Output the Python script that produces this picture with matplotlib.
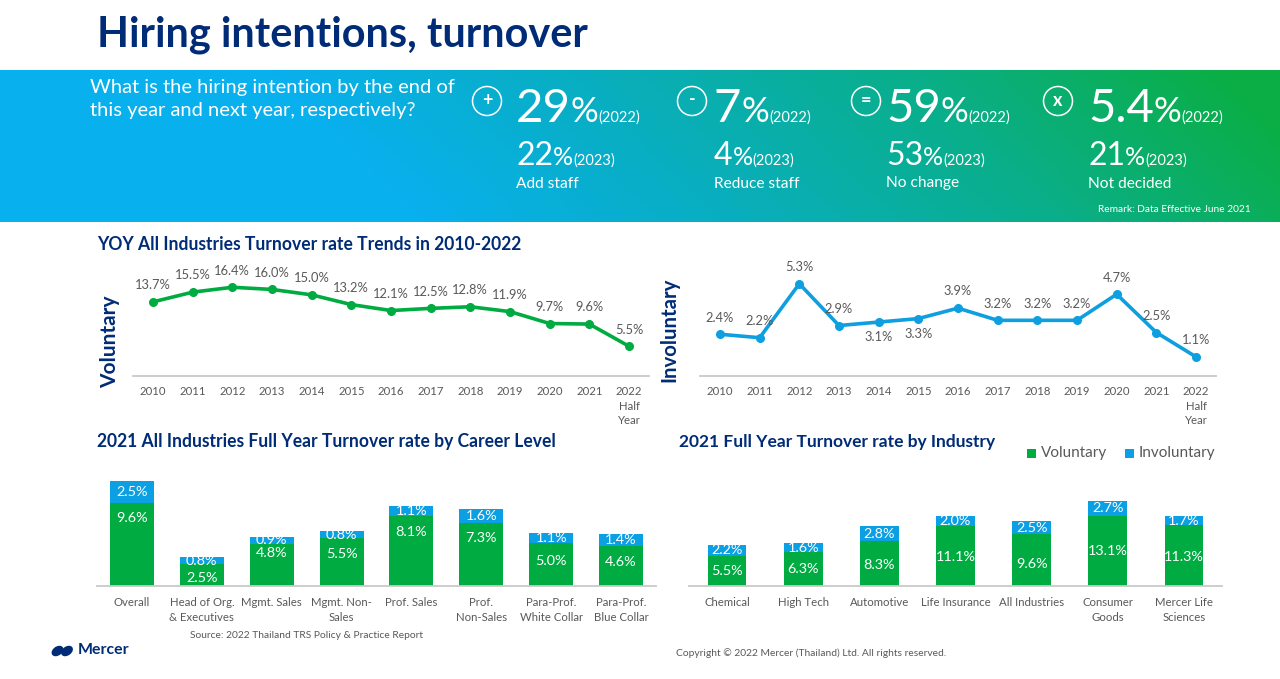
import numpy as np
from matplotlib import pyplot as plt
from matplotlib.colors import LinearSegmentedColormap
from matplotlib.patches import Circle, Ellipse, Rectangle

# ---- data ----
years = ['2010', '2011', '2012', '2013', '2014', '2015', '2016', '2017', '2018', '2019', '2020', '2021', '2022\nHalf\nYear']
voluntary_trend = [13.7, 15.5, 16.4, 16.0, 15.0, 13.2, 12.1, 12.5, 12.8, 11.9, 9.7, 9.6, 5.5]
involuntary_trend = [2.4, 2.2, 5.3, 2.9, 3.1, 3.3, 3.9, 3.2, 3.2, 3.2, 4.7, 2.5, 1.1]

levels = ['Overall', 'Head of Org.\n& Executives', 'Mgmt. Sales', 'Mgmt. Non-\nSales', 'Prof. Sales',
          'Prof.\nNon-Sales', 'Para-Prof.\nWhite Collar', 'Para-Prof.\nBlue Collar']
level_vol = [9.6, 2.5, 4.8, 5.5, 8.1, 7.3, 5.0, 4.6]
level_inv = [2.5, 0.8, 0.9, 0.8, 1.1, 1.6, 1.1, 1.4]

industries = ['Chemical', 'High Tech', 'Automotive', 'Life Insurance', 'All Industries', 'Consumer\nGoods',
              'Mercer Life\nSciences']
industry_vol = [5.5, 6.3, 8.3, 11.1, 9.6, 13.1, 11.3]
industry_inv = [2.2, 1.6, 2.8, 2.0, 2.5, 2.7, 1.7]

hiring_labels = ['Add staff', 'Reduce staff', 'No change', 'Not decided']
hiring_2022 = ['29', '7', '59', '5.4']
hiring_2023 = ['22', '4', '53', '21']
hiring_signs = ['+', '-', '=', 'x']

# ---- colours / layout ----
W, H = 1280, 679
NAVY = '#002C77'
GREEN = '#00AC41'
BLUE = '#0B9FE3'
GREY = '#595959'
AXIS = '#C9C9C9'
plt.rcParams['font.family'] = ['Lato', 'DejaVu Sans']

fig = plt.figure(figsize=(12.8, 6.79), dpi=100)

# page axes in pixel coordinates, used for banner and free text
page = fig.add_axes([0, 0, 1, 1])
page.set_xlim(0, W)
page.set_ylim(H, 0)
page.axis('off')


def box(x0, y0, x1, y1):
    # axes from a pixel box, y0 is the top edge
    return fig.add_axes([x0 / W, 1 - y1 / H, (x1 - x0) / W, (y1 - y0) / H], facecolor='none')


# banner gradient
xx, yy = np.meshgrid(np.linspace(0, 1280, 320), np.linspace(70, 222, 40))
grad = np.clip((xx + 1.0 * (222 - yy) - 420) / 960, 0, 1)
cmap = LinearSegmentedColormap.from_list('banner', ['#08B0EE', '#09AEBE', '#0AAE8A', '#0BAE45'])
page.imshow(grad, extent=(0, 1280, 222, 70), cmap=cmap, aspect='auto', zorder=0)
page.set_xlim(0, W)
page.set_ylim(H, 0)

page.text(97, 35, 'Hiring intentions, turnover', color=NAVY, fontsize=29.9, fontweight='bold',
          va='center', ha='left')
page.text(90, 87.5, 'What is the hiring intention by the end of', color='white', fontsize=14.5, va='center')
page.text(90, 110.5, 'this year and next year, respectively?', color='white', fontsize=14.5, va='center')

renderer = fig.canvas.get_renderer()


def runs(x, baseline, parts):
    # text pieces set one after another on the same baseline
    for s, size in parts:
        t = page.text(x, baseline, s, color='white', fontsize=size, va='baseline', ha='left', zorder=3)
        x = page.transData.inverted().transform(t.get_window_extent(renderer).get_points())[1][0]


big_x = [516, 714, 886, 1088]
circle_x = [487, 692, 866, 1058]
for i in range(4):
    runs(big_x[i], 122, [(hiring_2022[i], 34), ('%', 25), ('(2022)', 10.5)])
    runs(big_x[i], 165, [(hiring_2023[i], 23), ('%', 18), ('(2023)', 10.5)])
    page.text(big_x[i], 183.5, hiring_labels[i], color='white', fontsize=11.2, va='center', zorder=3)
    page.add_patch(Circle((circle_x[i], 101), 14.5, fc='none', ec='white', lw=1.1, zorder=3))
    page.text(circle_x[i], 100, hiring_signs[i], color='white', fontsize=13, fontweight='bold',
              ha='center', va='center', zorder=3)
page.text(1251, 209, 'Remark: Data Effective June 2021', color='white', fontsize=7.3, ha='right', va='center', zorder=3)

# section titles
page.text(97, 244.5, 'YOY All Industries Turnover rate Trends in 2010-2022', color=NAVY, fontsize=12.65,
          fontweight='bold', va='center')
page.text(97, 441.5, '2021 All Industries Full Year Turnover rate by Career Level', color=NAVY, fontsize=12.65,
          fontweight='bold', va='center')
page.text(679, 441.5, '2021 Full Year Turnover rate by Industry', color=NAVY, fontsize=12.55,
          fontweight='bold', va='center')
page.text(110, 342, 'Voluntary', color=NAVY, fontsize=15, fontweight='bold',
          rotation=90, ha='center', va='center')
page.text(669, 330, 'Involuntary', color=NAVY, fontsize=14.7, fontweight='bold',
          rotation=90, ha='center', va='center')

# legend
page.add_patch(Rectangle((1027, 449), 9, 9, fc=GREEN, ec='none'))
page.add_patch(Rectangle((1125, 449), 9, 9, fc=BLUE, ec='none'))
page.text(1041, 453, 'Voluntary', color=GREY, fontsize=11, va='center')
page.text(1139, 453, 'Involuntary', color=GREY, fontsize=11, va='center')

# footer
page.text(190, 636, 'Source: 2022 Thailand TRS Policy & Practice Report', color=GREY, fontsize=7.35, va='center')
page.text(676, 653, 'Copyright © 2022 Mercer (Thailand) Ltd. All rights reserved.', color=GREY, fontsize=7.4, va='center')
page.text(78, 650.5, 'Mercer', color=NAVY, fontsize=11.4, fontweight='bold', va='center')
page.add_patch(Ellipse((57.5, 651), 13, 9, angle=-35, fc=NAVY, ec='none'))
page.add_patch(Ellipse((67, 651), 13, 9, angle=-35, fc=NAVY, ec='none'))


def style_axis(ax):
    for s in ['top', 'left', 'right']:
        ax.spines[s].set_visible(False)
    ax.spines['bottom'].set_color(AXIS)
    ax.spines['bottom'].set_linewidth(1.3)
    ax.tick_params(axis='x', length=0, pad=7, labelsize=8.2, labelcolor=GREY)
    for lab in ax.get_xticklabels():
        lab.set_linespacing(1.42)


def line_panel(ax, values, color, ymax, below):
    x = np.arange(len(values))
    ax.plot(x, values, color=color, lw=2.6, marker='o', ms=5.5, clip_on=False)
    ax.set_xlim(-0.504, 12.504)
    ax.set_ylim(0, ymax)
    ax.set_yticks([])
    ax.set_xticks(x, years)
    for i, v in enumerate(values):
        dy = -11 if i in below else 12
        ax.annotate(f'{v}%', (i, v), xytext=(0, dy), textcoords='offset points', ha='center', va='center',
                    color=GREY, fontsize=9.3)
    style_axis(ax)


def bar_panel(ax, names, vol, inv, width, ymax, vol_nudge):
    x = np.arange(len(names))
    vol = np.array(vol)
    inv = np.array(inv)
    ax.bar(x, vol, width, color=GREEN)
    ax.bar(x, inv, width, bottom=vol, color=BLUE)
    ax.set_xlim(-0.5, len(names) - 0.5)
    ax.set_ylim(0, ymax)
    ax.set_yticks([])
    ax.set_xticks(x, names)
    for i in x:
        ax.annotate(f'{vol[i]:.1f}%', (i, vol[i] / 2), xytext=(0, -vol_nudge[i] * 0.72), textcoords='offset points',
                    ha='center', va='center', color='white', fontsize=10.4)
        ax.annotate(f'{inv[i]:.1f}%', (i, vol[i] + inv[i] / 2), ha='center', va='center', color='white', fontsize=10.4)
    style_axis(ax)
    ax.tick_params(axis='x', pad=8)


line_panel(box(133, 260, 649, 376), voluntary_trend, GREEN, 116 / 5.41, [])
line_panel(box(700, 260, 1216, 376), involuntary_trend, '#0E9FE0', 116 / 17.4, [4, 5])

# pixel shifts of the voluntary labels from the middle of their segment
level_nudge = [-26, 3, -12, -8, -19, -16, -3, -4]
industry_nudge = [0, 0, 1, 1, 4, 0, 1]
bar_panel(box(97, 470, 656, 586), levels, level_vol, level_inv, 0.63, 116 / 8.68, level_nudge)
bar_panel(box(689, 470, 1222, 586), industries, industry_vol, industry_inv, 0.51, 116 / 5.38, industry_nudge)

fig.savefig('out.png', dpi=100)
